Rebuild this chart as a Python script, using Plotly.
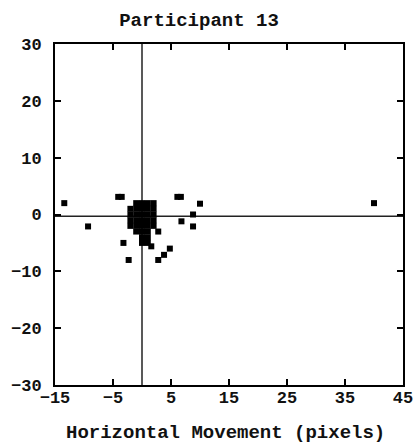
import plotly.graph_objects as go

# Gaze offsets for participant 13 (pixels)
core_x = [-1, 0, 1, 2,
          -2, -1, 0, 1, 2,
          -2, -1, 0, 1, 2,
          -2, -1, 0, 1, 2,
          -2, -1, 0, 1, 2]
core_y = [2, 2, 2, 2,
          1, 1, 1, 1, 1,
          0, 0, 0, 0, 0,
          -1, -1, -1, -1, -1,
          -2, -2, -2, -2, -2]

tail_x = [0, 1, 0, 1, 0, 1, 1.6, -1]
tail_y = [-3, -3, -4, -4, -5, -5, -5.6, -3]

scatter_x = [-13.4, -9.3, -4.1, -3.5, 6.1, 6.7, 10.0, 8.8, 6.8, 8.8,
             2.8, -3.2, -2.3, 2.8, 3.8, 4.8, 40.0]
scatter_y = [2.0, -2.1, 3.1, 3.1, 3.1, 3.1, 1.9, 0.0, -1.2, -2.1,
             -3.0, -5.0, -8.0, -8.0, -7.1, -6.0, 2.0]

x_ticks = [-15, -5, 5, 15, 25, 35, 45]
y_ticks = [-30, -20, -10, 0, 10, 20, 30]

xs = core_x + tail_x + scatter_x
ys = core_y + tail_y + scatter_y

FONT = "Liberation Mono, Courier New, monospace"
TEXT_FONT = dict(family=FONT, size=19, color="#111", weight="bold")

fig = go.Figure()
fig.add_trace(go.Scatter(
    x=xs, y=ys, mode="markers",
    marker=dict(symbol="square", size=6, color="black", line=dict(width=0)),
    showlegend=False, hoverinfo="skip",
))

# crosshair through the origin
fig.add_shape(type="line", xref="x", yref="paper", x0=0, x1=0, y0=0, y1=1,
              line=dict(color="#222", width=1.5), layer="below")
fig.add_shape(type="line", xref="paper", yref="y", x0=0, x1=1, y0=-0.3, y1=-0.3,
              line=dict(color="#222", width=1.5), layer="below")

# x-axis caption
fig.add_annotation(text="Horizontal Movement (pixels)", xref="paper", yref="paper",
                   x=0.49, y=-0.141, xanchor="center", yanchor="middle",
                   showarrow=False, font=TEXT_FONT)

axis_common = dict(
    showline=True, linecolor="black", linewidth=2, mirror="ticks",
    ticks="inside", ticklen=6, tickwidth=1.5, tickcolor="black",
    showgrid=False, zeroline=False, automargin=False,
    tickfont=dict(family=FONT, size=17, color="#111", weight="bold"),
)

fig.update_layout(
    width=418, height=444,
    margin=dict(l=55, r=15, t=44, b=59),
    paper_bgcolor="white", plot_bgcolor="white",
    title=dict(text="Participant 13", x=199 / 418, xanchor="center",
               y=1 - 19 / 444, yanchor="middle", automargin=False,
               font=TEXT_FONT),
    xaxis=dict(range=[-15, 45], tickvals=x_ticks, ticklabelstandoff=-4,
               **axis_common),
    yaxis=dict(range=[-30, 30], tickvals=y_ticks, ticklabelstandoff=8,
               **axis_common),
)

fig.write_html("out.html")
